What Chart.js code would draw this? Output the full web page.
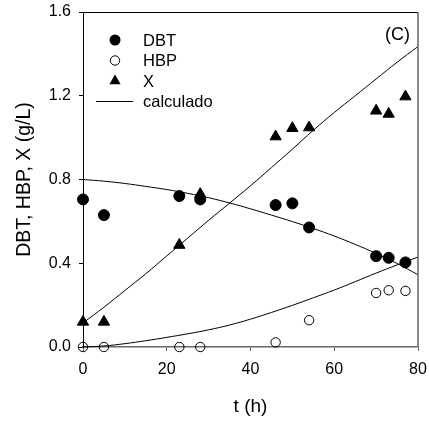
<!DOCTYPE html>
<html>
<head>
<meta charset="utf-8">
<script src="https://cdn.jsdelivr.net/npm/chart.js@4.4.1/dist/chart.umd.min.js"></script>
<style>
  body { margin: 0; background: #fff; }
  #wrap { width: 429px; height: 423px; }
</style>
</head>
<body>
<div id="wrap"><canvas id="kineticsChart"></canvas></div>
<script>
// measured concentrations (g/L) against time (h)
const timeDBT = [0, 5, 23, 28, 46, 50, 54, 70, 73, 77];
const valuesDBT = [0.705, 0.630, 0.721, 0.705, 0.678, 0.686, 0.571, 0.434, 0.426, 0.404];

const timeHBP = [0, 5, 23, 28, 46, 54, 70, 73, 77];
const valuesHBP = [0, 0, 0, 0, 0.022, 0.128, 0.258, 0.271, 0.268];

const timeX = [0, 5, 23, 28, 46, 50, 54, 70, 73, 77];
const valuesX = [0.12, 0.12, 0.487, 0.73, 1.005, 1.045, 1.048, 1.128, 1.113, 1.196];

// model curves
const timeCalc = [0, 5, 10, 15, 20, 25, 30, 35, 40, 45, 50, 55, 60, 65, 70, 75, 80];
const calcDBT = [0.800, 0.792, 0.781, 0.767, 0.752, 0.734, 0.713, 0.688, 0.660, 0.630, 0.599, 0.566, 0.530, 0.490, 0.447, 0.399, 0.345];
const calcHBP = [0, 0.005, 0.016, 0.030, 0.046, 0.063, 0.082, 0.105, 0.133, 0.165, 0.199, 0.235, 0.272, 0.312, 0.353, 0.392, 0.430];
const calcX = [0.115, 0.190, 0.270, 0.350, 0.435, 0.520, 0.605, 0.687, 0.770, 0.857, 0.945, 1.035, 1.120, 1.200, 1.280, 1.360, 1.435];

const xTickStep = 20;
const yTickStep = 0.4;

const legendItems = ["DBT", "HBP", "X", "calculado"];
const panelLabel = "(C)";

const FONT = "'Liberation Sans', Arial, sans-serif";

function toPoints(xs, ys) {
  return xs.map((x, i) => ({ x: x, y: ys[i] }));
}

// top/right frame, legend and panel letter
const decorations = {
  id: "decorations",
  afterDraw(chart) {
    const ctx = chart.ctx;
    const area = chart.chartArea;
    ctx.save();

    ctx.strokeStyle = "#000";
    ctx.lineWidth = 1;
    ctx.beginPath();
    ctx.moveTo(area.left, area.top + 0.5);
    ctx.lineTo(area.right, area.top + 0.5);
    ctx.stroke();

    ctx.strokeStyle = "#666";
    ctx.lineWidth = 1.5;
    ctx.beginPath();
    ctx.moveTo(area.right, area.top);
    ctx.lineTo(area.right, area.bottom);
    ctx.stroke();

    const mx = area.left + 32;
    const tx = area.left + 60;
    const y0 = area.top + 28;
    const dy = 20.5;

    ctx.fillStyle = "#000";
    ctx.strokeStyle = "#000";
    ctx.lineWidth = 1;

    // DBT
    ctx.beginPath();
    ctx.arc(mx, y0, 5.5, 0, Math.PI * 2);
    ctx.fill();

    // HBP
    ctx.beginPath();
    ctx.arc(mx, y0 + dy, 4.7, 0, Math.PI * 2);
    ctx.stroke();

    // X
    const r = 6.5;
    const ty = y0 + dy * 2;
    ctx.beginPath();
    ctx.moveTo(mx, ty - r);
    ctx.lineTo(mx + r * Math.sin(Math.PI * 2 / 3), ty + r / 2);
    ctx.lineTo(mx - r * Math.sin(Math.PI * 2 / 3), ty + r / 2);
    ctx.closePath();
    ctx.fill();

    // calculado
    ctx.beginPath();
    ctx.moveTo(area.left + 13, y0 + dy * 3);
    ctx.lineTo(area.left + 50, y0 + dy * 3);
    ctx.stroke();

    ctx.font = "16.5px " + FONT;
    ctx.textAlign = "left";
    ctx.textBaseline = "middle";
    legendItems.forEach((label, i) => {
      ctx.fillText(label, tx, y0 + dy * i + 1);
    });

    ctx.font = "18px " + FONT;
    ctx.textAlign = "right";
    ctx.fillText(panelLabel, area.right - 8, area.top + 23);

    ctx.restore();
  },
};

function kineticsChart() {
  const ctx = document.getElementById("kineticsChart").getContext("2d");

  const markerBase = {
    showLine: false,
    clip: false,
    borderColor: "#000",
    borderWidth: 1,
  };

  const lineBase = {
    showLine: true,
    pointRadius: 0,
    borderColor: "#000",
    borderWidth: 1,
    tension: 0.4,
    clip: false,
  };

  const data = {
    datasets: [
      {
        ...markerBase,
        label: "DBT",
        data: toPoints(timeDBT, valuesDBT),
        pointStyle: "circle",
        pointRadius: 5.5,
        pointBackgroundColor: "#000",
      },
      {
        ...markerBase,
        label: "HBP",
        data: toPoints(timeHBP, valuesHBP),
        pointStyle: "circle",
        pointRadius: 4.7,
        pointBackgroundColor: "rgba(0,0,0,0)",
      },
      {
        ...markerBase,
        label: "X",
        data: toPoints(timeX, valuesX),
        pointStyle: "triangle",
        pointRadius: 6.5,
        pointBackgroundColor: "#000",
      },
      { ...lineBase, label: "calc DBT", data: toPoints(timeCalc, calcDBT) },
      { ...lineBase, label: "calc HBP", data: toPoints(timeCalc, calcHBP) },
      { ...lineBase, label: "calc X", data: toPoints(timeCalc, calcX) },
    ],
  };

  const options = {
    responsive: true,
    maintainAspectRatio: false,
    animation: false,
    layout: {
      padding: { left: 0, top: 12, right: 11, bottom: 0 },
    },
    plugins: {
      legend: { display: false },
      tooltip: { enabled: false },
    },
    scales: {
      x: {
        type: "linear",
        min: 0,
        max: 80,
        ticks: {
          stepSize: xTickStep,
          color: "#000",
          font: { family: FONT, size: 16 },
          padding: 9,
          maxRotation: 0,
        },
        grid: {
          display: true,
          drawOnChartArea: false,
          drawTicks: true,
          tickLength: 4,
          color: "#666",
        },
        border: { display: true, color: "#666", width: 1.5 },
        title: {
          display: true,
          text: "t (h)",
          color: "#000",
          font: { family: FONT, size: 19 },
          padding: { top: 0, bottom: 5 },
        },
        afterFit(scale) {
          scale.height = 76;
          scale.paddingLeft = 0;
          scale.paddingRight = 0;
        },
      },
      y: {
        type: "linear",
        min: 0,
        max: 1.6,
        ticks: {
          stepSize: yTickStep,
          color: "#000",
          font: { family: FONT, size: 16 },
          padding: 8,
          callback: (v) => v.toFixed(1),
        },
        grid: {
          display: true,
          drawOnChartArea: false,
          drawTicks: true,
          tickLength: 4,
          color: "#000",
        },
        border: { display: true, color: "#000", width: 1 },
        title: {
          display: true,
          text: "DBT, HBP, X (g/L)",
          color: "#000",
          font: { family: FONT, size: 19.5 },
          padding: { top: 12.5, bottom: 0 },
        },
        afterFit(scale) {
          scale.width = 83;
          scale.paddingTop = 0;
          scale.paddingBottom = 0;
        },
      },
    },
  };

  new Chart(ctx, {
    type: "scatter",
    data: data,
    options: options,
    plugins: [decorations],
  });
}

kineticsChart();
</script>
</body>
</html>
